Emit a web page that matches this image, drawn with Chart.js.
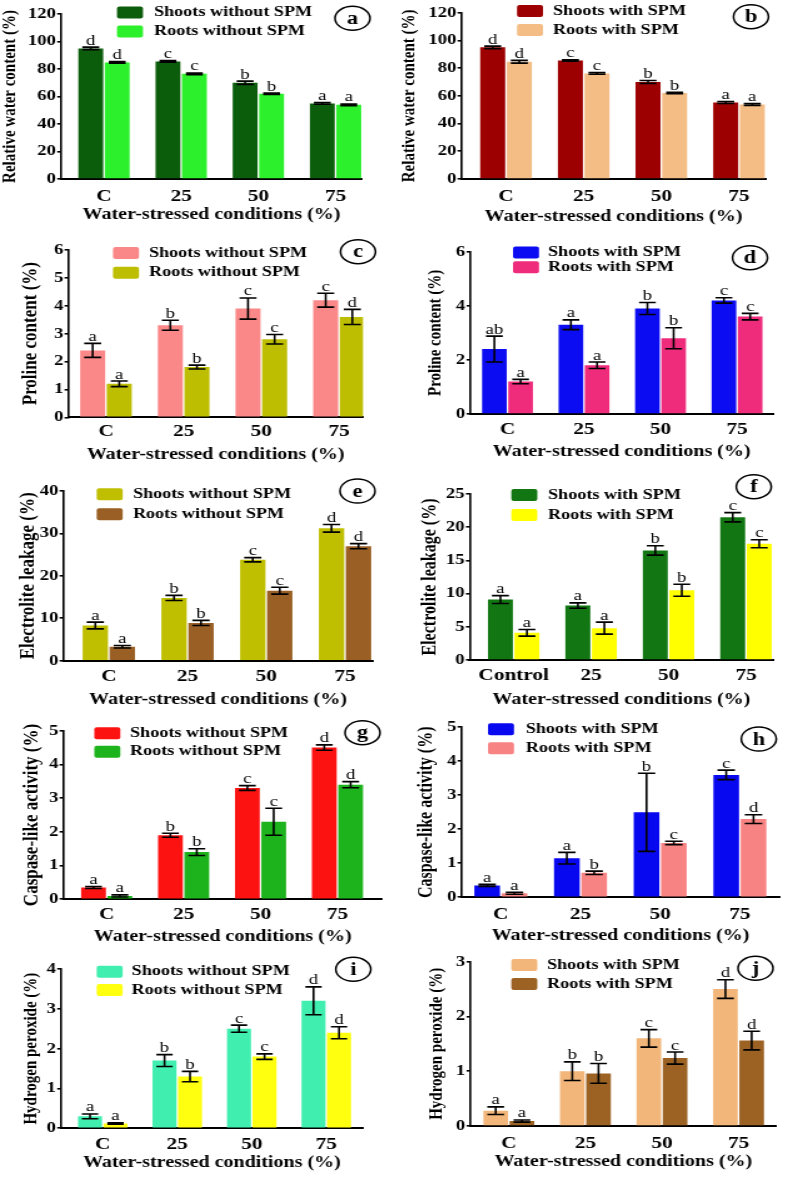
<!DOCTYPE html>
<html>
<head>
<meta charset="utf-8">
<script src="https://cdn.jsdelivr.net/npm/chart.js@4.4.1/dist/chart.umd.min.js"></script>
<style>
  html, body { margin: 0; padding: 0; background: #fff; }
  body { width: 787px; height: 1177px; position: relative; overflow: hidden; }
  /* the figure is horizontally stretched, so every panel is drawn narrow and scaled */
  canvas { position: absolute; transform-origin: 0 0; transform: scaleX(1.25); }
</style>
</head>
<body>
<script>
// categories
var cats = ['C', '25', '50', '75'];
var catsF = ['Control', '25', '50', '75'];

// (a) relative water content, without SPM
var aShoots = [95, 85.5, 70, 55];
var aShootsErr = [0.9, 0.6, 1.2, 0.6];
var aRoots = [84.8, 76.5, 62, 54];
var aRootsErr = [0.6, 0.6, 0.5, 0.6];
var aShootsLet = ['d', 'c', 'b', 'a'];
var aRootsLet = ['d', 'c', 'b', 'a'];

// (b) relative water content, with SPM
var bShoots = [95, 85.5, 70, 55.2];
var bShootsErr = [0.9, 0.5, 1.1, 0.7];
var bRoots = [84.6, 76.2, 62, 53.8];
var bRootsErr = [1, 0.6, 0.5, 0.7];
var bShootsLet = ['d', 'c', 'b', 'a'];
var bRootsLet = ['d', 'c', 'b', 'a'];

// (c) proline, without SPM
var cShoots = [2.4, 3.3, 3.9, 4.2];
var cShootsErr = [0.25, 0.18, 0.38, 0.25];
var cRoots = [1.2, 1.8, 2.8, 3.6];
var cRootsErr = [0.1, 0.07, 0.17, 0.27];
var cShootsLet = ['a', 'b', 'c', 'c'];
var cRootsLet = ['a', 'b', 'c', 'd'];

// (d) proline, with SPM
var dShoots = [2.4, 3.3, 3.9, 4.2];
var dShootsErr = [0.48, 0.18, 0.22, 0.1];
var dRoots = [1.2, 1.8, 2.8, 3.6];
var dRootsErr = [0.08, 0.12, 0.39, 0.12];
var dShootsLet = ['ab', 'a', 'b', 'c'];
var dRootsLet = ['a', 'a', 'b', 'c'];

// (e) electrolite leakage, without SPM
var eShoots = [8.3, 14.8, 23.8, 31.2];
var eShootsErr = [0.8, 0.6, 0.5, 0.9];
var eRoots = [3.3, 8.9, 16.5, 27];
var eRootsErr = [0.3, 0.6, 0.8, 0.6];
var eShootsLet = ['a', 'b', 'c', 'd'];
var eRootsLet = ['a', 'b', 'c', 'd'];

// (f) electrolite leakage, with SPM
var fShoots = [9.1, 8.2, 16.5, 21.5];
var fShootsErr = [0.6, 0.4, 0.7, 0.7];
var fRoots = [4.1, 4.8, 10.5, 17.5];
var fRootsErr = [0.5, 0.9, 0.9, 0.6];
var fShootsLet = ['a', 'a', 'b', 'c'];
var fRootsLet = ['a', 'a', 'b', 'c'];

// (g) caspase-like activity, without SPM
var gShoots = [0.35, 1.9, 3.3, 4.5];
var gShootsErr = [0.03, 0.06, 0.07, 0.08];
var gRoots = [0.1, 1.4, 2.3, 3.4];
var gRootsErr = [0.03, 0.1, 0.4, 0.09];
var gShootsLet = ['a', 'b', 'c', 'd'];
var gRootsLet = ['a', 'b', 'c', 'd'];

// (h) caspase-like activity, with SPM
var hShoots = [0.35, 1.15, 2.5, 3.6];
var hShootsErr = [0.03, 0.17, 1.15, 0.14];
var hRoots = [0.12, 0.72, 1.6, 2.3];
var hRootsErr = [0.03, 0.05, 0.05, 0.13];
var hShootsLet = ['a', 'a', 'b', 'c'];
var hRootsLet = ['a', 'b', 'c', 'd'];

// (i) hydrogen peroxide, without SPM
var iShoots = [0.3, 1.7, 2.5, 3.2];
var iShootsErr = [0.06, 0.15, 0.09, 0.35];
var iRoots = [0.12, 1.3, 1.8, 2.4];
var iRootsErr = [0.02, 0.13, 0.07, 0.15];
var iShootsLet = ['a', 'b', 'c', 'd'];
var iRootsLet = ['a', 'b', 'c', 'd'];

// (j) hydrogen peroxide, with SPM
var jShoots = [0.28, 1.0, 1.6, 2.5];
var jShootsErr = [0.07, 0.17, 0.16, 0.17];
var jRoots = [0.09, 0.96, 1.24, 1.56];
var jRootsErr = [0.02, 0.18, 0.11, 0.17];
var jShootsLet = ['a', 'b', 'c', 'd'];
var jRootsLet = ['a', 'b', 'c', 'd'];

var withoutNames = ['Shoots without SPM', 'Roots without SPM'];
var withNames = ['Shoots with SPM', 'Roots with SPM'];

var S = 1.25;                 // horizontal stretch
var W = 315;                  // canvas width before stretch
var rows = [[0, 228], [228, 466], [466, 713], [713, 948], [948, 1177]];
var colLeft = [0, 393];
var serif = '"Liberation Serif", "Times New Roman", serif';

Chart.defaults.font.family = serif;
Chart.defaults.color = '#000';

// error bars + significance letters
var errorBars = {
  id: 'errorBars',
  afterDatasetsDraw: function (chart) {
    var ctx = chart.ctx, y = chart.scales.y;
    chart.data.datasets.forEach(function (ds, di) {
      chart.getDatasetMeta(di).data.forEach(function (bar, i) {
        var v = ds.data[i].y, e = ds.errors[i];
        var yt = y.getPixelForValue(v + e), yb = y.getPixelForValue(v - e);
        var cap = bar.width * 0.34;
        ctx.save();
        ctx.strokeStyle = '#000';
        ctx.lineWidth = 1.6;
        ctx.beginPath();
        ctx.moveTo(bar.x, yt); ctx.lineTo(bar.x, yb);
        ctx.moveTo(bar.x - cap, yt); ctx.lineTo(bar.x + cap, yt);
        ctx.moveTo(bar.x - cap, yb); ctx.lineTo(bar.x + cap, yb);
        ctx.stroke();
        ctx.fillStyle = '#000';
        ctx.font = '15px ' + serif;
        ctx.textAlign = 'center';
        ctx.textBaseline = 'alphabetic';
        ctx.fillText(ds.letters[i], bar.x, yt - 2.5);
        ctx.restore();
      });
    });
  }
};

// legend inside the plot and the circled panel letter
var panelDecor = {
  id: 'panelDecor',
  afterDraw: function (chart, args, o) {
    var ctx = chart.ctx;
    ctx.save();
    chart.data.datasets.forEach(function (ds, di) {
      var yy = o.legY[di];
      ctx.fillStyle = ds.backgroundColor;
      ctx.beginPath();
      ctx.roundRect(o.boxX, yy - 6, 20.8, 12, 2);
      ctx.fill();
      ctx.fillStyle = '#000';
      ctx.font = 'bold 14.5px ' + serif;
      ctx.textAlign = 'left';
      ctx.textBaseline = 'middle';
      ctx.fillText(ds.label, o.textX, yy);
    });
    ctx.beginPath();
    ctx.ellipse(o.cx, o.cy, 14, 12, 0, 0, Math.PI * 2);
    ctx.lineWidth = 1.5;
    ctx.strokeStyle = '#000';
    ctx.stroke();
    ctx.fillStyle = '#000';
    ctx.font = 'bold 18px ' + serif;
    ctx.textAlign = 'center';
    ctx.textBaseline = 'middle';
    ctx.fillText(o.tag, o.cx, o.cy + 1);
    ctx.restore();
  }
};

function makePanel(p) {
  var top = rows[p.row][0], H = rows[p.row][1] - top, left = colLeft[p.col];
  var cv = document.createElement('canvas');
  cv.width = W; cv.height = H;
  cv.style.left = left + 'px'; cv.style.top = top + 'px';
  cv.style.width = W + 'px'; cv.style.height = H + 'px';
  document.body.appendChild(cv);

  var L = (p.axisX - left) / S, R = (p.axisRight - left) / S;
  var T = p.yTop - top, B = p.yZero - top;
  var yLine = p.yTitleSize * 1.2, xLine = 16 * 1.2, tickLine = 17 * 1.2;
  var labels = p.cats;

  new Chart(cv, {
    type: 'bar',
    data: {
      datasets: [
        { label: p.names[0], data: p.shoots.map(function (v, i) { return { x: i, y: v }; }),
          backgroundColor: p.colors[0], errors: p.shootsErr, letters: p.shootsLet },
        { label: p.names[1], data: p.roots.map(function (v, i) { return { x: i, y: v }; }),
          backgroundColor: p.colors[1], errors: p.rootsErr, letters: p.rootsLet }
      ]
    },
    options: {
      responsive: false,
      animation: false,
      devicePixelRatio: 1,
      layout: { padding: { left: 0, top: T, right: W - R, bottom: 0 } },
      datasets: { bar: { categoryPercentage: 0.685, barPercentage: 0.94 } },
      plugins: {
        legend: { display: false },
        tooltip: { enabled: false },
        panelDecor: {
          legY: p.legY.map(function (v) { return v - top; }),
          boxX: (p.boxX - left) / S, textX: (p.textX - left) / S,
          cx: (p.cx - left) / S, cy: p.cy - top, tag: p.tag
        }
      },
      scales: {
        x: {
          type: 'linear', offset: false, min: p.xMin, max: p.xMax,
          afterFit: function (s) { s.height = H - B; },
          afterBuildTicks: function (s) { s.ticks = labels.map(function (c, i) { return { value: i }; }); },
          ticks: { callback: function (v) { return labels[v]; }, font: { size: 17, weight: 'bold' },
                   padding: (p.tickY - top) - B - tickLine / 2, maxRotation: 0, autoSkip: false },
          grid: { display: false, drawTicks: false, offset: false },
          border: { display: true, color: '#000', width: 2 },
          title: { display: true, text: 'Water-stressed conditions (%)', font: { size: 16, weight: 'bold' },
                   padding: { top: 0, bottom: H - (p.xTitleY - top) - xLine / 2 } }
        },
        y: {
          min: 0, max: p.yMax,
          afterFit: function (s) { s.width = L; },
          ticks: { stepSize: p.yStep, font: { size: 15, weight: 'bold' }, padding: 1 },
          grid: { display: true, drawOnChartArea: false, drawTicks: true, tickLength: 3, color: '#000', lineWidth: 1.6 },
          border: { display: true, color: '#000', width: 1.6 },
          title: { display: true, text: p.yTitle, font: { size: p.yTitleSize, weight: 'bold' },
                   padding: { top: (p.yTitleX - left) / S - yLine / 2, bottom: 0 } }
        }
      }
    },
    plugins: [errorBars, panelDecor]
  });
}

var panels = [
  { tag: 'a', row: 0, col: 0, cats: cats, names: withoutNames, colors: ['#0b5d0b', '#2bf02b'],
    shoots: aShoots, shootsErr: aShootsErr, shootsLet: aShootsLet, roots: aRoots, rootsErr: aRootsErr, rootsLet: aRootsLet,
    yTitle: 'Relative water content (%)', yTitleSize: 15, yMax: 120, yStep: 20, xMin: -0.557, xMax: 3.343,
    axisX: 61, axisRight: 362, yTop: 14, yZero: 179, yTitleX: 10, tickY: 197, xTitleY: 215,
    boxX: 117, textX: 154, legY: [12.5, 31.5], cx: 352.5, cy: 18.3 },
  { tag: 'b', row: 0, col: 1, cats: cats, names: withNames, colors: ['#9c0000', '#f4bd85'],
    shoots: bShoots, shootsErr: bShootsErr, shootsLet: bShootsLet, roots: bRoots, rootsErr: bRootsErr, rootsLet: bRootsLet,
    yTitle: 'Relative water content (%)', yTitleSize: 15, yMax: 120, yStep: 20, xMin: -0.576, xMax: 3.344,
    axisX: 461.3, axisRight: 765.7, yTop: 12.7, yZero: 179, yTitleX: 410, tickY: 197, xTitleY: 217,
    boxX: 517, textX: 553, legY: [11, 30], cx: 751, cy: 16.7 },
  { tag: 'c', row: 1, col: 0, cats: cats, names: withoutNames, colors: ['#fb8888', '#bdbd02'],
    shoots: cShoots, shootsErr: cShootsErr, shootsLet: cShootsLet, roots: cRoots, rootsErr: cRootsErr, rootsLet: cRootsLet,
    yTitle: 'Proline content (%)', yTitleSize: 17, yMax: 6, yStep: 1, xMin: -0.485, xMax: 3.309,
    axisX: 68.3, axisRight: 363, yTop: 250, yZero: 417.3, yTitleX: 31, tickY: 431.7, xTitleY: 455,
    boxX: 113, textX: 149, legY: [253, 272.7], cx: 358, cy: 251.7 },
  { tag: 'd', row: 1, col: 1, cats: cats, names: withNames, colors: ['#0c0cf2', '#ef2b7c'],
    shoots: dShoots, shootsErr: dShootsErr, shootsLet: dShootsLet, roots: dRoots, rootsErr: dRootsErr, rootsLet: dRootsLet,
    yTitle: 'Proline content (%)', yTitleSize: 15, yMax: 6, yStep: 2, xMin: -0.486, xMax: 3.47,
    axisX: 470.3, axisRight: 773, yTop: 251.7, yZero: 414, yTitleX: 436, tickY: 430, xTitleY: 451.7,
    boxX: 513, textX: 548, legY: [252.5, 267.2], cx: 750, cy: 257.7 },
  { tag: 'e', row: 2, col: 0, cats: cats, names: withoutNames, colors: ['#bfbf00', '#9a5f24'],
    shoots: eShoots, shootsErr: eShootsErr, shootsLet: eShootsLet, roots: eRoots, rootsErr: eRootsErr, rootsLet: eRootsLet,
    yTitle: 'Electrolite leakage (%)', yTitleSize: 17, yMax: 40, yStep: 10, xMin: -0.578, xMax: 3.352,
    axisX: 63.3, axisRight: 372.7, yTop: 491, yZero: 660.7, yTitleX: 28, tickY: 676.7, xTitleY: 700,
    boxX: 96.7, textX: 133, legY: [494.3, 514.3], cx: 357.5, cy: 491 },
  { tag: 'f', row: 2, col: 1, cats: catsF, names: withNames, colors: ['#127712', '#ffff00'],
    shoots: fShoots, shootsErr: fShootsErr, shootsLet: fShootsLet, roots: fRoots, rootsErr: fRootsErr, rootsLet: fRootsLet,
    yTitle: 'Electrolite leakage (%)', yTitleSize: 16, yMax: 25, yStep: 5, xMin: -0.568, xMax: 3.349,
    axisX: 469.7, axisRight: 773, yTop: 494, yZero: 660, yTitleX: 429.7, tickY: 675.7, xTitleY: 700,
    boxX: 511.3, textX: 548, legY: [495, 515], cx: 753.8, cy: 486.7 },
  { tag: 'g', row: 3, col: 0, cats: cats, names: withoutNames, colors: ['#fd1212', '#1db31d'],
    shoots: gShoots, shootsErr: gShootsErr, shootsLet: gShootsLet, roots: gRoots, rootsErr: gRootsErr, rootsLet: gRootsLet,
    yTitle: 'Caspase-like activity (%)', yTitleSize: 17, yMax: 5, yStep: 1, xMin: -0.564, xMax: 3.579,
    axisX: 63.3, axisRight: 382, yTop: 730.7, yZero: 899.3, yTitleX: 31.7, tickY: 915, xTitleY: 936.7,
    boxX: 94.3, textX: 130, legY: [733.3, 751.7], cx: 362.5, cy: 732.7 },
  { tag: 'h', row: 3, col: 1, cats: cats, names: withNames, colors: ['#0808f0', '#f88383'],
    shoots: hShoots, shootsErr: hShootsErr, shootsLet: hShootsLet, roots: hRoots, rootsErr: hRootsErr, rootsLet: hRootsLet,
    yTitle: 'Caspase-like activity (%)', yTitleSize: 16, yMax: 5, yStep: 1, xMin: -0.496, xMax: 3.5,
    axisX: 461.3, axisRight: 779.7, yTop: 727.3, yZero: 897.3, yTitleX: 426.3, tickY: 915, xTitleY: 936,
    boxX: 488, textX: 525.7, legY: [729.3, 748.3], cx: 758.8, cy: 739 },
  { tag: 'i', row: 4, col: 0, cats: cats, names: withoutNames, colors: ['#40eeb0', '#ffff10'],
    shoots: iShoots, shootsErr: iShootsErr, shootsLet: iShootsLet, roots: iRoots, rootsErr: iRootsErr, rootsLet: iRootsLet,
    yTitle: 'Hydrogen peroxide (%)', yTitleSize: 15, yMax: 4, yStep: 1, xMin: -0.561, xMax: 3.489,
    axisX: 61, axisRight: 362.7, yTop: 969, yZero: 1128.3, yTitleX: 31.7, tickY: 1145, xTitleY: 1163.3,
    boxX: 96.7, textX: 131.7, legY: [971.7, 990], cx: 353.3, cy: 969.3 },
  { tag: 'j', row: 4, col: 1, cats: cats, names: withNames, colors: ['#f2b67a', '#9b6224'],
    shoots: jShoots, shootsErr: jShootsErr, shootsLet: jShootsLet, roots: jRoots, rootsErr: jRootsErr, rootsLet: jRootsLet,
    yTitle: 'Hydrogen peroxide (%)', yTitleSize: 15, yMax: 3, yStep: 1, xMin: -0.503, xMax: 3.493,
    axisX: 470.3, axisRight: 776.3, yTop: 961.7, yZero: 1126, yTitleX: 436.3, tickY: 1143.3, xTitleY: 1161.7,
    boxX: 511.3, textX: 547, legY: [965, 984], cx: 755.5, cy: 968.3 }
];

panels.forEach(makePanel);
</script>
</body>
</html>
